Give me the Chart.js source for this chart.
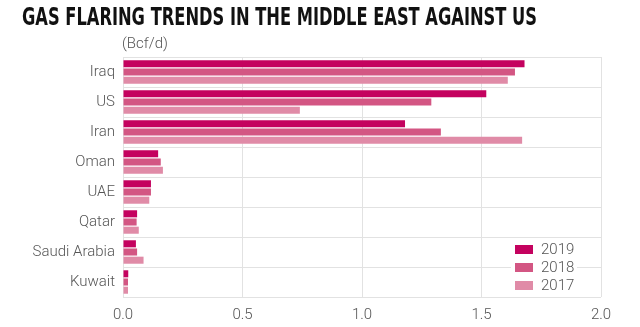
<!DOCTYPE html>
<html>
<head>
<meta charset="utf-8">
<script src="https://cdn.jsdelivr.net/npm/chart.js@4"></script>
<style>
  html, body { margin: 0; padding: 0; background: #fff; }
  #wrap { width: 640px; height: 327px; position: relative; }
</style>
</head>
<body>
<div id="wrap"><canvas id="chart" width="640" height="327"></canvas></div>
<script>
const countries = ["Iraq", "US", "Iran", "Oman", "UAE", "Qatar", "Saudi Arabia", "Kuwait"];
const years = ["2019", "2018", "2017"];
const flaring2019 = [1.68, 1.52, 1.18, 0.147, 0.117, 0.059, 0.054, 0.022];
const flaring2018 = [1.64, 1.29, 1.33, 0.158, 0.117, 0.057, 0.059, 0.021];
const flaring2017 = [1.61, 0.74, 1.67, 0.167, 0.110, 0.066, 0.086, 0.021];
const xTicks = [0, 0.5, 1.0, 1.5, 2.0];

const colors = ["#c4025f", "#d35683", "#e08ba7"];
const tickFont = { family: "Roboto", size: 15, weight: "300" };
const tickColor = "#555";
const gridColor = "#e2e2e2";
const titleText = "GAS FLARING TRENDS IN THE MIDDLE EAST AGAINST US";

// title, unit label and legend drawn by hand
const decorations = {
    id: "decorations",
    afterDraw(chart) {
        const ctx = chart.ctx;
        const area = chart.chartArea;
        ctx.save();
        ctx.fillStyle = "#111";
        ctx.font = "bold 25px 'DejaVu Sans Condensed', 'Liberation Sans Narrow', sans-serif";
        ctx.textBaseline = "middle";
        ctx.textAlign = "left";
        // squeeze the title to the width it has in the original layout
        const w = ctx.measureText(titleText).width;
        ctx.save();
        ctx.translate(22, 18);
        ctx.scale(515 / w, 1);
        ctx.fillText(titleText, 0, 0);
        ctx.restore();

        ctx.fillStyle = tickColor;
        ctx.font = "300 15px Roboto";
        ctx.fillText("(Bcf/d)", area.left - 1, 44);

        // legend in the lower right of the plot
        const x0 = area.right - 86;
        years.forEach((y, i) => {
            const cy = 249 + i * 18;
            ctx.fillStyle = "#fff";
            ctx.fillRect(x0 - 4, cy - 8, 66, 16);
            ctx.fillStyle = colors[i];
            ctx.fillRect(x0, cy - 4, 18, 9);
            ctx.fillStyle = tickColor;
            ctx.font = "300 15px Roboto";
            ctx.fillText(y, x0 + 26, cy + 1);
        });
        ctx.restore();
    },
};

const canvas = document.getElementById("chart");
const chart = new Chart(canvas.getContext("2d"), {
    type: "bar",
    data: {
        labels: countries,
        datasets: [flaring2019, flaring2018, flaring2017].map((d, i) => ({
            label: years[i],
            data: d,
            backgroundColor: colors[i],
            barPercentage: 0.86,
            categoryPercentage: 0.82,
        })),
    },
    options: {
        indexAxis: "y",
        responsive: false,
        animation: false,
        layout: { padding: { top: 57, right: 39, bottom: 0, left: 0 } },
        plugins: {
            legend: { display: false },
            title: { display: false },
            tooltip: { enabled: false },
        },
        scales: {
            x: {
                min: 0,
                max: 2,
                afterBuildTicks: (axis) => { axis.ticks = xTicks.map((v) => ({ value: v })); },
                afterFit: (axis) => { axis.height = 30; },
                grid: { color: gridColor, drawTicks: false },
                border: { display: false },
                ticks: {
                    font: tickFont,
                    color: tickColor,
                    padding: 9,
                    callback: (v) => Number(v).toFixed(1),
                },
            },
            y: {
                grid: { color: gridColor, offset: true, drawTicks: false },
                border: { display: false },
                ticks: { font: tickFont, color: tickColor, padding: 8 },
                afterFit: (axis) => { axis.width = 123; },
            },
        },
    },
    plugins: [decorations],
});
</script>
</body>
</html>
